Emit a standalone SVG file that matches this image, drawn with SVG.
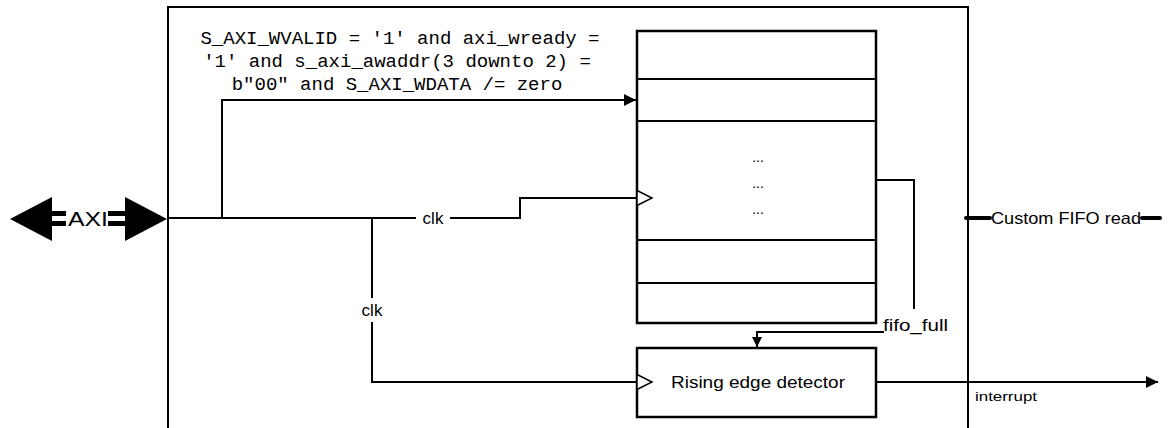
<svg xmlns="http://www.w3.org/2000/svg" width="1168" height="428" viewBox="0 0 1168 428">
<defs>
<style>
.ln{fill:none;stroke:#000;stroke-width:2}
.bx{fill:#fff;stroke:#000;stroke-width:2.5}
.t{font-family:"Liberation Sans",Arial,sans-serif;fill:#000}
.m{font-family:"Liberation Mono","DejaVu Sans Mono",monospace;font-size:19px;fill:#000}
.clk{fill:#fff;stroke:#000;stroke-width:1.5}
</style>
<marker id="ah" viewBox="0 0 10 10" refX="10" refY="5" markerWidth="10" markerHeight="10" markerUnits="userSpaceOnUse" orient="auto">
<path d="M0,0 L10,5 L0,10 z" fill="#000"/>
</marker>
<marker id="ahL" viewBox="0 0 12 12" refX="12" refY="6" markerWidth="12" markerHeight="12" markerUnits="userSpaceOnUse" orient="auto">
<path d="M0,0 L12,6 L0,12 z" fill="#000"/>
</marker>
</defs>
<rect width="1168" height="428" fill="#fff"/>

<g id="outer">
<path class="ln" d="M168,440 L168,7 L968,7 L968,440"/>
</g>

<g id="connectors">
<path class="ln" d="M167,218 L520,218 L520,198 L637,198"/>
<path class="ln" d="M222,218 L222,100 L636,100" marker-end="url(#ahL)"/>
<path class="ln" d="M372,218 L372,382 L637,382"/>
<path class="ln" d="M876,180 L914,180 L914,309"/>
<path class="ln" d="M884,332 L757,332 L757,347" marker-end="url(#ah)"/>
<path class="ln" d="M876,382 L1158,382" marker-end="url(#ahL)"/>
<rect x="416" y="207" width="34" height="22" fill="#fff"/>
<text class="t" x="433" y="224" font-size="17" text-anchor="middle">clk</text>
<rect x="359" y="298" width="26" height="24" fill="#fff"/>
<text class="t" x="372" y="316" font-size="17" text-anchor="middle">clk</text>
<text class="t" x="883" y="331" font-size="16" textLength="65" lengthAdjust="spacingAndGlyphs">fifo_full</text>
<text class="t" x="975" y="401" font-size="12" textLength="62" lengthAdjust="spacingAndGlyphs">interrupt</text>
</g>

<g id="condition">
<text class="m" x="400" y="44" text-anchor="middle">S_AXI_WVALID = '1' and axi_wready =</text>
<text class="m" x="397" y="67" text-anchor="middle">'1' and s_axi_awaddr(3 downto 2) =</text>
<text class="m" x="397" y="90" text-anchor="middle">b"00" and S_AXI_WDATA /= zero</text>
</g>

<g id="fifo">
<rect class="bx" x="637" y="31" width="239" height="292"/>
<path class="ln" d="M637,79 L876,79 M637,121 L876,121 M637,240 L876,240 M637,283 L876,283"/>
<text class="t" x="758" y="162" font-size="14" text-anchor="middle">...</text>
<text class="t" x="758" y="188" font-size="14" text-anchor="middle">...</text>
<text class="t" x="758" y="214" font-size="14" text-anchor="middle">...</text>
<path class="clk" d="M637,190.5 L652,198 L637,205.5 z"/>
</g>

<g id="rising">
<rect class="bx" x="637" y="348" width="239" height="69"/>
<path class="clk" d="M637,374.5 L652,382 L637,389.5 z"/>
<text class="t" x="758" y="388" font-size="16.5" text-anchor="middle" textLength="174" lengthAdjust="spacingAndGlyphs">Rising edge detector</text>
</g>

<g id="axi">
<path d="M10,219 L52,197 L52,241 z" fill="#000"/>
<path d="M167,219 L125,197 L125,241 z" fill="#000"/>
<rect x="51" y="211" width="15" height="5" fill="#000"/>
<rect x="51" y="221" width="15" height="5" fill="#000"/>
<rect x="108" y="211" width="18" height="5" fill="#000"/>
<rect x="108" y="221" width="18" height="5" fill="#000"/>
<text class="t" x="88" y="226" font-size="20" text-anchor="middle" textLength="40" lengthAdjust="spacingAndGlyphs">AXI</text>
</g>

<g id="custom-fifo-read">
<path d="M966,218 L990,218" stroke="#000" stroke-width="4" stroke-linecap="round"/>
<path d="M1142,218 L1160,218" stroke="#000" stroke-width="4" stroke-linecap="round"/>
<text class="t" x="991" y="224" font-size="16.5" textLength="150" lengthAdjust="spacingAndGlyphs">Custom FIFO read</text>
</g>
</svg>
